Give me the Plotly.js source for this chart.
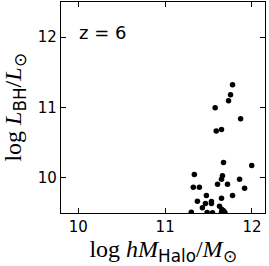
<!DOCTYPE html>
<html><head><meta charset="utf-8">
<script src="https://cdn.plot.ly/plotly-3.0.1.min.js"></script>
<style>body{margin:0;padding:0;background:#fff}#c{width:269px;height:266px}</style>
</head><body><div id="c"></div>
<script>
var logMhalo = [11.776,11.753,11.730,11.576,11.869,11.588,11.649,11.672,11.997,11.336,11.660,11.649,11.857,11.603,11.718,11.324,11.394,11.915,11.475,11.776,11.649,11.371,11.533,11.464,11.533,11.626,11.429,11.654,11.672,11.301,11.483,11.545,11.688,11.649];
var logLbh = [11.322,11.180,11.095,10.996,10.841,10.667,10.686,10.219,10.177,10.049,10.031,9.979,9.979,9.908,9.908,9.866,9.866,9.852,9.748,9.748,9.710,9.668,9.664,9.635,9.635,9.597,9.573,9.551,9.531,9.512,9.508,9.502,9.508,9.512];
var xTicks = [10, 11, 12];
var yTicks = [10, 11, 12];
var label = 'z = 6';

var axisCommon = {
  showgrid:false, zeroline:false, showline:true, linecolor:'#000', linewidth:1.2,
  mirror:'ticks', ticks:'inside', ticklen:5, tickwidth:1, tickcolor:'#000',
  tickfont:{family:'DejaVu Sans', size:15, color:'#000'}
};
var layout = {
  width:269, height:266,
  margin:{l:61, r:4, t:2, b:53},
  paper_bgcolor:'#fff', plot_bgcolor:'#fff',
  showlegend:false,
  xaxis: Object.assign({}, axisCommon, {
    range:[9.8, 12.15], tickvals:xTicks, ticktext:xTicks.map(String),
    title:{text:'log <i>hM</i><sub><span style="font-family:DejaVu Sans">Halo</span></sub>/<i>M</i><sub>⊙</sub>', font:{family:'Liberation Serif', size:24, color:'#000'}, standoff:5}
  }),
  yaxis: Object.assign({}, axisCommon, {
    range:[9.5, 12.5], tickvals:yTicks, ticktext:yTicks.map(String),
    title:{text:'log <i>L</i><sub><span style="font-family:DejaVu Sans">BH</span></sub>/<i>L</i><sub>⊙</sub>', font:{family:'Liberation Serif', size:24, color:'#000'}, standoff:10}
  }),
  annotations:[{text:label, xref:'paper', yref:'paper', x:0.08, y:0.855, xanchor:'left', yanchor:'middle', showarrow:false, font:{family:'DejaVu Sans', size:18, color:'#000'}}]
};
Plotly.newPlot('c', [{
  x:logMhalo, y:logLbh, type:'scatter', mode:'markers', cliponaxis:true,
  marker:{color:'#000', size:5.5}
}], layout, {staticPlot:true, displayModeBar:false});
</script></body></html>
